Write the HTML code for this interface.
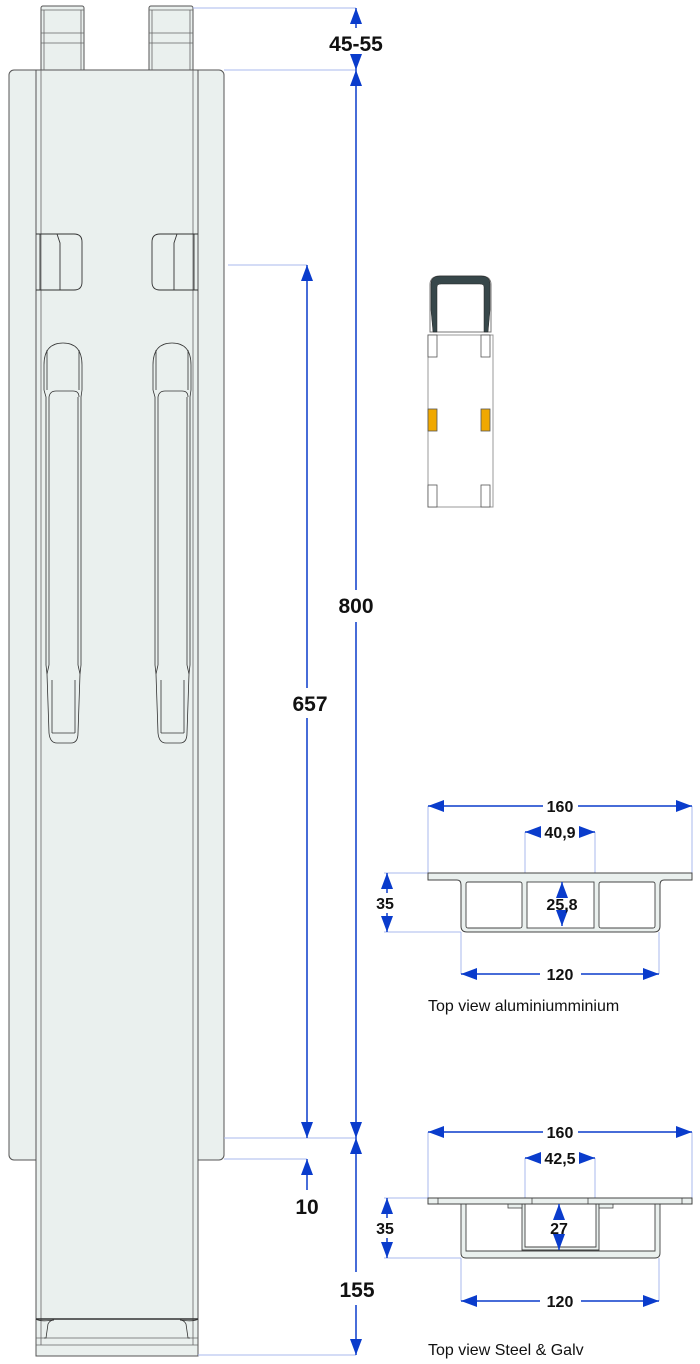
<!DOCTYPE html>
<html><head><meta charset="utf-8"><style>
html,body{margin:0;padding:0;background:#fff;}
svg{display:block;}
text{font-family:"Liberation Sans",sans-serif;}
</style></head><body>
<svg width="700" height="1364" viewBox="0 0 700 1364" xmlns="http://www.w3.org/2000/svg">
<defs>
<marker id="a" viewBox="0 0 16 12" refX="16" refY="6" markerWidth="16" markerHeight="12" markerUnits="userSpaceOnUse" orient="auto-start-reverse">
<path d="M0,0 L16,6 L0,12 Z" fill="#0a3ccc"/></marker>
</defs>
<g fill="#eaf0ee" stroke="#555" stroke-width="1">
<rect x="41" y="6" width="43" height="66" rx="2"/>
<rect x="149" y="6" width="44" height="66" rx="2"/>
<rect x="9" y="70" width="215" height="1090" rx="5"/>
<rect x="36" y="70" width="162" height="1286"/>
</g>
<g stroke="#666" stroke-width="0.8" fill="none">
<line x1="41" y1="10" x2="84" y2="10"/><line x1="41" y1="33" x2="84" y2="33"/><line x1="41" y1="43" x2="84" y2="43"/>
<line x1="149" y1="10" x2="193" y2="10"/><line x1="149" y1="33" x2="193" y2="33"/><line x1="149" y1="43" x2="193" y2="43"/>
<line x1="44" y1="10" x2="44" y2="70"/><line x1="81" y1="10" x2="81" y2="70"/>
<line x1="152" y1="10" x2="152" y2="70"/><line x1="190" y1="10" x2="190" y2="70"/>
<line x1="41" y1="70" x2="41" y2="1345"/><line x1="193" y1="70" x2="193" y2="1345"/>
<line x1="36" y1="1338" x2="198" y2="1338"/><line x1="36" y1="1345" x2="198" y2="1345"/>
</g>
<g stroke="#333" fill="none" stroke-width="0.8">
<line x1="36" y1="1319" x2="198" y2="1319" stroke-width="1.5"/>
<path d="M44,1338 L46,1338 L48,1324 Q50,1320 54,1320"/>
<path d="M190,1338 L188,1338 L186,1324 Q184,1320 180,1320"/>
<path d="M36,1319 Q40,1322 54,1320"/><path d="M198,1319 Q194,1322 180,1320"/>
</g>
<g stroke="#333" stroke-width="0.9" fill="none">
<path d="M36,234 H74 Q82,234 82,242 V282 Q82,290 74,290 H36"/>
<path d="M57,234 L60,243 V290"/><line x1="40" y1="234" x2="40" y2="290"/>
<path d="M198,234 H160 Q152,234 152,242 V282 Q152,290 160,290 H198"/>
<path d="M177,234 L174,243 V290"/><line x1="194" y1="234" x2="194" y2="290"/>
</g>
<g stroke="#333" stroke-width="0.8" fill="none">
<g id="h">
<path d="M44,390 V365 Q44,343 63,343 Q82,343 82,365 V390"/>
<path d="M44,390 L46,397 V665 L47,674 L49,733 Q50,743 57,743 H71 Q78,743 78,733 L80,674 L81,665 V397 L82,390"/>
<path d="M49,397 Q50,391 56,391 H73 Q79,391 79,397"/>
<line x1="49" y1="397" x2="49" y2="665"/><line x1="78" y1="397" x2="78" y2="665"/>
<path d="M47,674 L49,665 M80,674 L78,665"/>
<path d="M52,680 V733 M75,680 V733 M52,733 H75"/>
<path d="M47,350 V390 M79,350 V390"/>
</g>
<use href="#h" x="109"/>
</g>
<g stroke="#aab8ee" stroke-width="1">
<line x1="193" y1="8" x2="356" y2="8"/>
<line x1="224" y1="70" x2="356" y2="70"/>
<line x1="228" y1="265" x2="307" y2="265"/>
<line x1="224" y1="1138" x2="356" y2="1138"/>
<line x1="224" y1="1159" x2="307" y2="1159"/>
<line x1="198" y1="1355" x2="356" y2="1355"/>
</g>
<g stroke="#0a3ccc" stroke-width="1.5" fill="none">
<line x1="356" y1="8" x2="356" y2="28" marker-start="url(#a)"/>
<line x1="356" y1="56" x2="356" y2="70" marker-end="url(#a)"/>
<line x1="356" y1="70" x2="356" y2="590" marker-start="url(#a)"/>
<line x1="356" y1="622" x2="356" y2="1138" marker-end="url(#a)"/>
<line x1="356" y1="1138" x2="356" y2="1272" marker-start="url(#a)"/>
<line x1="356" y1="1305" x2="356" y2="1355" marker-end="url(#a)"/>
<line x1="307" y1="265" x2="307" y2="688" marker-start="url(#a)"/>
<line x1="307" y1="718" x2="307" y2="1138" marker-end="url(#a)"/>
<line x1="307" y1="1190" x2="307" y2="1159" marker-end="url(#a)"/>
</g>
<g font-size="21" font-weight="bold" fill="#111" text-anchor="middle">
<text x="356" y="51">45-55</text>
<text x="356" y="613">800</text>
<text x="310" y="711">657</text>
<text x="307" y="1214">10</text>
<text x="357" y="1297">155</text>
</g>
<g>
<rect x="428" y="335" width="65" height="172" fill="#fff" stroke="#999"/>
<path d="M430,332 V285 Q430,276 440,276 H481 Q491,276 491,285 V332 Z" fill="#fff" stroke="#777"/>
<path d="M431,310 V284 Q431,276 440,276 H481 Q490,276 490,284 V310 L488,332 H484 V287 Q484,284 480,284 H441 Q437,284 437,287 V332 H433 Z" fill="#37474a" stroke="#222" stroke-width="0.5"/>
<g fill="#fff" stroke="#555" stroke-width="0.8">
<rect x="428" y="335" width="9" height="22"/><rect x="481" y="335" width="9" height="22"/>
<rect x="428" y="485" width="9" height="22"/><rect x="481" y="485" width="9" height="22"/>
</g>
<rect x="428" y="409" width="9" height="22" fill="#f0a800" stroke="#555" stroke-width="0.8"/>
<rect x="481" y="409" width="9" height="22" fill="#f0a800" stroke="#555" stroke-width="0.8"/>
</g>
<g stroke="#aab8ee" stroke-width="1">
<line x1="428" y1="806" x2="428" y2="873"/><line x1="692" y1="806" x2="692" y2="873"/>
<line x1="525" y1="832" x2="525" y2="873"/><line x1="595" y1="832" x2="595" y2="873"/>
<line x1="384" y1="873" x2="428" y2="873"/><line x1="384" y1="932" x2="461" y2="932"/>
<line x1="461" y1="932" x2="461" y2="974"/><line x1="659" y1="932" x2="659" y2="974"/>
</g>
<path d="M428,873 H692 V880 H664 Q660,880 660,885 V926 Q660,932 654,932 H467 Q461,932 461,926 V885 Q461,880 457,880 H428 Z" fill="#eaf0ee" stroke="#444"/>
<g fill="#fff" stroke="#444" stroke-width="0.9">
<rect x="466" y="882" width="56" height="46" rx="2"/>
<rect x="527" y="882" width="67" height="46"/>
<rect x="599" y="882" width="56" height="46" rx="2"/>
</g>
<g stroke="#aab8ee" stroke-width="1">
<line x1="428" y1="1132" x2="428" y2="1198"/><line x1="692" y1="1132" x2="692" y2="1198"/>
<line x1="525" y1="1158" x2="525" y2="1198"/><line x1="595" y1="1158" x2="595" y2="1198"/>
<line x1="384" y1="1198" x2="428" y2="1198"/><line x1="384" y1="1258" x2="461" y2="1258"/>
<line x1="461" y1="1258" x2="461" y2="1301"/><line x1="659" y1="1258" x2="659" y2="1301"/>
</g>
<path d="M461,1204 V1253 Q461,1258 466,1258 H655 Q660,1258 660,1253 V1204 H655 V1251 H466 V1204 Z" fill="#eaf0ee" stroke="#444" stroke-width="0.9"/>
<path d="M522,1204 V1250 H599 V1204 H596 V1247 H525 V1204 Z" fill="#eaf0ee" stroke="#444" stroke-width="0.9"/>
<rect x="508" y="1204" width="14" height="4" fill="#eaf0ee" stroke="#444" stroke-width="0.8"/>
<rect x="599" y="1204" width="14" height="4" fill="#eaf0ee" stroke="#444" stroke-width="0.8"/>
<rect x="428" y="1198" width="264" height="6" fill="#eaf0ee" stroke="#444"/>
<g stroke="#444" stroke-width="0.8"><line x1="438" y1="1198" x2="438" y2="1204"/><line x1="532" y1="1198" x2="532" y2="1204"/><line x1="588" y1="1198" x2="588" y2="1204"/><line x1="682" y1="1198" x2="682" y2="1204"/></g>
<g stroke="#0a3ccc" stroke-width="1.5" fill="none">
<line x1="543" y1="806" x2="428" y2="806" marker-end="url(#a)"/><line x1="578" y1="806" x2="692" y2="806" marker-end="url(#a)"/>
<line x1="541" y1="832" x2="525" y2="832" marker-end="url(#a)"/><line x1="579" y1="832" x2="595" y2="832" marker-end="url(#a)"/>
<line x1="387" y1="893" x2="387" y2="873" marker-end="url(#a)"/><line x1="387" y1="913" x2="387" y2="932" marker-end="url(#a)"/>
<line x1="562" y1="893" x2="562" y2="882" marker-end="url(#a)"/><line x1="562" y1="915" x2="562" y2="926" marker-end="url(#a)"/>
<line x1="540" y1="974" x2="461" y2="974" marker-end="url(#a)"/><line x1="581" y1="974" x2="659" y2="974" marker-end="url(#a)"/>
<line x1="543" y1="1132" x2="428" y2="1132" marker-end="url(#a)"/><line x1="578" y1="1132" x2="692" y2="1132" marker-end="url(#a)"/>
<line x1="541" y1="1158" x2="525" y2="1158" marker-end="url(#a)"/><line x1="579" y1="1158" x2="595" y2="1158" marker-end="url(#a)"/>
<line x1="387" y1="1218" x2="387" y2="1198" marker-end="url(#a)"/><line x1="387" y1="1238" x2="387" y2="1258" marker-end="url(#a)"/>
<line x1="559" y1="1218" x2="559" y2="1204" marker-end="url(#a)"/><line x1="559" y1="1238" x2="559" y2="1250" marker-end="url(#a)"/>
<line x1="540" y1="1301" x2="461" y2="1301" marker-end="url(#a)"/><line x1="581" y1="1301" x2="659" y2="1301" marker-end="url(#a)"/>
</g>
<g font-size="16" font-weight="bold" fill="#111" text-anchor="middle">
<text x="560" y="812">160</text>
<text x="560" y="838">40,9</text>
<text x="385" y="909">35</text>
<text x="562" y="910">25,8</text>
<text x="560" y="980">120</text>
<text x="560" y="1138">160</text>
<text x="560" y="1164">42,5</text>
<text x="385" y="1234">35</text>
<text x="559" y="1234">27</text>
<text x="560" y="1307">120</text>
</g>
<g font-size="16" fill="#111">
<text x="428" y="1011">Top view aluminiumminium</text>
<text x="428" y="1355">Top view Steel &amp; Galv</text>
</g>
</svg>
</body></html>
